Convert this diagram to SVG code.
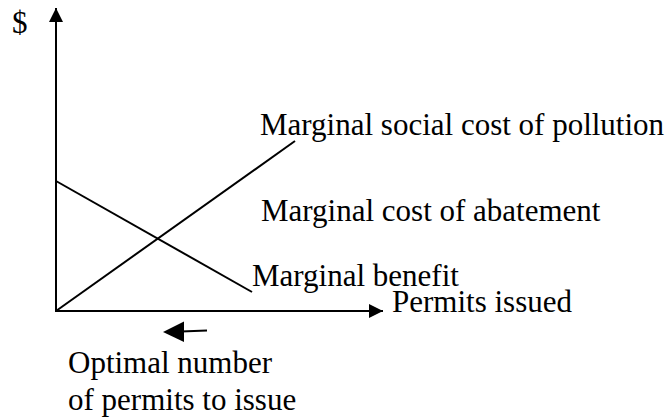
<svg xmlns="http://www.w3.org/2000/svg" width="672" height="419" viewBox="0 0 672 419">
<style>
text{font-size:31px;fill:#000}
.ln{stroke:#000;stroke-width:2;fill:none}
</style>
<defs>
<marker id="ah" markerUnits="userSpaceOnUse" markerWidth="14" markerHeight="14" refX="12" refY="6" orient="auto" viewBox="0 0 12 12">
<path d="M0,0 L12,6 L0,12 Z" fill="#000"/>
</marker>
</defs>
<rect width="672" height="419" fill="#fff"/>
<g id="connectors">
<line class="ln" x1="56" y1="312" x2="56" y2="8" marker-end="url(#ah)"/>
<line class="ln" x1="56" y1="311" x2="383" y2="311" marker-end="url(#ah)"/>
<line class="ln" x1="56" y1="311" x2="295" y2="141"/>
<line class="ln" x1="56" y1="181" x2="252" y2="292"/>
<line class="ln" x1="207" y1="330.5" x2="181" y2="331.5"/>
<path d="M163,332 L184,321.5 L184,342 Z" fill="#000"/>
</g>
<g id="label-dollar"><text font-family="Liberation Serif" x="12" y="33" font-size="28">$</text></g>
<g id="label-msc"><text font-family="Liberation Serif" x="260" y="135">Marginal social cost of pollution</text></g>
<g id="label-mca"><text font-family="Liberation Serif" x="261" y="221">Marginal cost of abatement</text></g>
<g id="label-mb"><text font-family="Liberation Serif" x="252" y="286">Marginal benefit</text></g>
<g id="label-permits"><text font-family="Liberation Serif" x="392" y="312">Permits issued</text></g>
<g id="label-optimal">
<text font-family="Liberation Serif" x="68" y="373">Optimal number</text>
<text font-family="Liberation Serif" x="68" y="410">of permits to issue</text>
</g>
</svg>
